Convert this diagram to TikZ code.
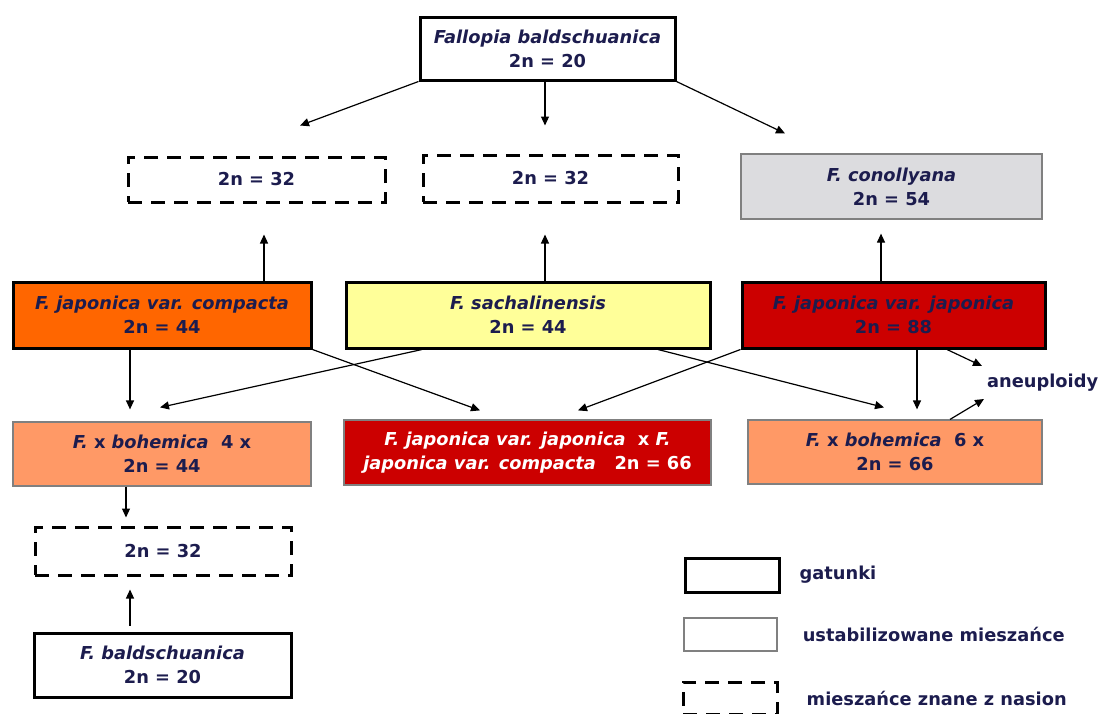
\documentclass[tikz,border=0pt]{standalone}
\usepackage{fontspec}
\setmainfont{DejaVu Sans}
\usetikzlibrary{arrows.meta,positioning}
\definecolor{navy}{HTML}{1C1C4E}
\definecolor{orangeC}{HTML}{FF6600}
\definecolor{yellowS}{HTML}{FFFF99}
\definecolor{redJ}{HTML}{CC0000}
\definecolor{salmonB}{HTML}{FF9966}
\definecolor{grayC}{HTML}{DCDCDF}
\tikzset{
    box/.style={text=navy, font=\fontsize{17.8}{24}\selectfont\bfseries, align=center, inner sep=0pt},
    species/.style={box, draw, line width=3pt},
    stable/.style={box, draw=gray, line width=1.2pt},
    seeds/.style={box, draw, line width=3pt, dash pattern=on 14pt off 9pt},
    arr/.style={-{Triangle[length=9pt,width=8pt]}, line width=1.2pt},
}
\begin{document}
\begin{tikzpicture}[x=1pt,y=-1pt]
    \useasboundingbox (0,0) rectangle (1099,713);
    % top row
    \node[species, minimum width=255pt, minimum height=63pt] (fallopia) at (547.5,48.5) {\itshape Fallopia baldschuanica\\2n = 20};
    \node[seeds, minimum width=257pt, minimum height=45pt] (seedA) at (256.5,179.5) {2n = 32};
    \node[seeds, minimum width=255pt, minimum height=47pt] (seedB) at (550.5,178.5) {2n = 32};
    \node[stable, fill=grayC, minimum width=301pt, minimum height=65pt] (conol) at (891.5,186.5) {\itshape F. conollyana\\2n = 54};
    % parents
    \node[species, fill=orangeC, minimum width=298pt, minimum height=66pt] (compacta) at (162,315) {\itshape F. japonica var. compacta\\2n = 44};
    \node[species, fill=yellowS, minimum width=364pt, minimum height=66pt] (sachal) at (528,315) {\itshape F. sachalinensis\\2n = 44};
    \node[species, fill=redJ, minimum width=303pt, minimum height=66pt] (japon) at (893.5,315) {\itshape F. japonica var. japonica\\2n = 88};
    % hybrids
    \node[stable, fill=salmonB, minimum width=298pt, minimum height=64pt] (boh4) at (162,454) {{\itshape F.} x {\itshape bohemica}\ \ 4 x\\2n = 44};
    \node[stable, fill=redJ, text=white, minimum width=367pt, minimum height=65pt] (hybrid) at (527.5,452.5) {{\itshape F. japonica var. japonica}\ \ x {\itshape F.}\\{\itshape japonica var. compacta}\ \ \ 2n = 66};
    \node[stable, fill=salmonB, minimum width=294pt, minimum height=64pt] (boh6) at (895,452) {{\itshape F.} x {\itshape bohemica}\ \ 6 x\\2n = 66};
    \node[box, anchor=west] (aneu) at (987,383) {aneuploidy};
    \node[seeds, minimum width=256pt, minimum height=48pt] (seedC) at (163,551) {2n = 32};
    \node[species, minimum width=257pt, minimum height=64pt] (bald) at (162.5,665) {\itshape F. baldschuanica\\2n = 20};
    % legend
    \node[species, minimum width=94pt, minimum height=34pt] (legSpecies) at (732,575) {};
    \node[stable, minimum width=93pt, minimum height=33pt] (legStable) at (730.5,634.5) {};
    \node[seeds, minimum width=94pt, minimum height=32pt] (legSeeds) at (730,698) {};
    \node[box, right=19pt of legSpecies] (txtSpecies) {gatunki};
    \node[box, right=25pt of legStable] (txtStable) {ustabilizowane mieszańce};
    \node[box, right=28pt of legSeeds] (txtSeeds) {mieszańce znane z nasion};
    % arrows
    \draw[arr] (fallopia.south west) -- ([shift={(43.5,-30)}]seedA.north);
    \draw[arr] ([xshift=-2.5pt]fallopia.south) -- ([shift={(-5.5,-28)}]seedB.north);
    \draw[arr] (fallopia.south east) -- ([shift={(-106.5,-20)}]conol.north);
    \draw[arr] ([xshift=102pt]compacta.north) -- ([shift={(7.5,31)}]seedA.south);
    \draw[arr] ([xshift=17pt]sachal.north) -- ([shift={(-5.5,31)}]seedB.south);
    \draw[arr] ([xshift=-12.5pt]japon.north) -- ([shift={(-10.5,14)}]conol.south);
    \draw[arr] ([xshift=-32pt]compacta.south) -- ([shift={(-32,-12)}]boh4.north);
    \draw[arr] (compacta.south east) -- ([shift={(-47.5,-9)}]hybrid.north);
    \draw[arr] ([xshift=-106pt]sachal.south) -- ([shift={(-2,-14)}]boh4.north);
    \draw[arr] ([xshift=130pt]sachal.south) -- ([shift={(-11,-12)}]boh6.north);
    \draw[arr] (japon.south west) -- ([shift={(50.5,-9)}]hybrid.north);
    \draw[arr] ([xshift=23.5pt]japon.south) -- ([shift={(22,-10)}]boh6.north);
    \draw[arr] ([xshift=53.5pt]japon.south) -- ([shift={(-5,-17)}]aneu.west);
    \draw[arr] ([xshift=55pt]boh6.north) -- ([shift={(-3,16)}]aneu.west);
    \draw[arr] ([xshift=-36pt]boh4.south) -- ([shift={(-37,-8)}]seedC.north);
    \draw[arr] ([shift={(-32.5,-6)}]bald.north) -- ([shift={(-33,13)}]seedC.south);
\end{tikzpicture}
\end{document}
